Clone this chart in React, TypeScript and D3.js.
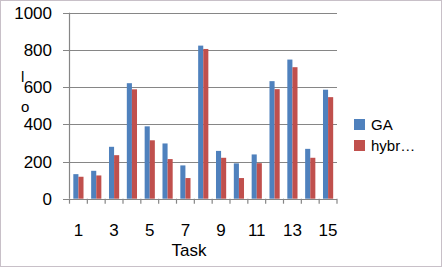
import React from "react";
import * as d3 from "d3";

const categories = ["1","2","3","4","5","6","7","8","9","10","11","12","13","14","15"];
const gaValues = [132,150,279,621,389,297,179,823,257,190,238,632,748,268,586];
const hybridValues = [118,125,234,588,314,213,111,805,220,111,191,589,707,220,546];
const yTicks = [0,200,400,600,800,1000];
const seriesNames = ["GA","hybr…"];
const seriesColors = ["#4F81BD","#C0504D"];

export default function App() {
  const W = 448, H = 269;
  const x0 = 69.5, x1 = 337, y0 = 198.7, y1 = 12.7;
  const x = d3.scaleBand<string>().domain(categories).range([x0, x1]).paddingInner(0).paddingOuter(0);
  const y = d3.scaleLinear().domain([0, 1000]).range([y0, y1]);
  const bw = x.bandwidth();
  const barW = bw / 3.5;
  const gap = (bw - 2 * barW) / 2;
  const font = "'Liberation Sans', Arial, sans-serif";
  const axisColor = "#868686";
  const series = [gaValues, hybridValues];
  return (
    <svg width={W} height={H} style={{ position: "absolute", left: 0, top: 0, background: "#fff" }}>
      <rect x={0.5} y={0.5} width={441} height={266} fill="#fff" stroke="#c8c0c8" strokeWidth={1} />
      {yTicks.map((t) => (
        <g key={t}>
          <line x1={63} x2={x1} y1={Math.round(y(t)) + 0.5} y2={Math.round(y(t)) + 0.5} stroke={axisColor} strokeWidth={1.2} />
          <text x={52} y={y(t) + 6} textAnchor="end" fontFamily={font} fontSize={17} fill="#000">{t}</text>
        </g>
      ))}
      <line x1={x0} x2={x0} y1={y1} y2={y0} stroke={axisColor} strokeWidth={1.2} />
      {categories.map((c) => (
        <line key={"t" + c} x1={x(c)! + bw} x2={x(c)! + bw} y1={y0} y2={y0 + 5} stroke={axisColor} strokeWidth={1.2} />
      ))}
      <line x1={x0} x2={x0} y1={y0} y2={y0 + 5} stroke={axisColor} strokeWidth={1.2} />
      {series.map((vals, si) =>
        vals.map((v, i) => (
          <rect key={si + "-" + i} x={x(categories[i])! + gap + si * barW} y={y(v)} width={barW} height={y0 - y(v)} fill={seriesColors[si]} />
        ))
      )}
      {categories.map((c, i) =>
        i % 2 === 0 ? (
          <text key={"l" + c} x={x(c)! + bw / 2} y={236} textAnchor="middle" fontFamily={font} fontSize={17} fill="#000">{c}</text>
        ) : null
      )}
      <text x={189} y={256} textAnchor="middle" fontFamily={font} fontSize={17} fill="#000">Task</text>
      <text x={21} y={82} fontFamily={font} fontSize={15} fill="#000">l</text>
      <text x={21} y={112} fontFamily={font} fontSize={15} fill="#000">o</text>
      {seriesNames.map((n, i) => (
        <g key={n}>
          <rect x={354} y={119 + i * 21} width={11} height={11} fill={seriesColors[i]} />
          <text x={371} y={130 + i * 21} fontFamily={font} fontSize={15} fill="#000">{n}</text>
        </g>
      ))}
    </svg>
  );
}
